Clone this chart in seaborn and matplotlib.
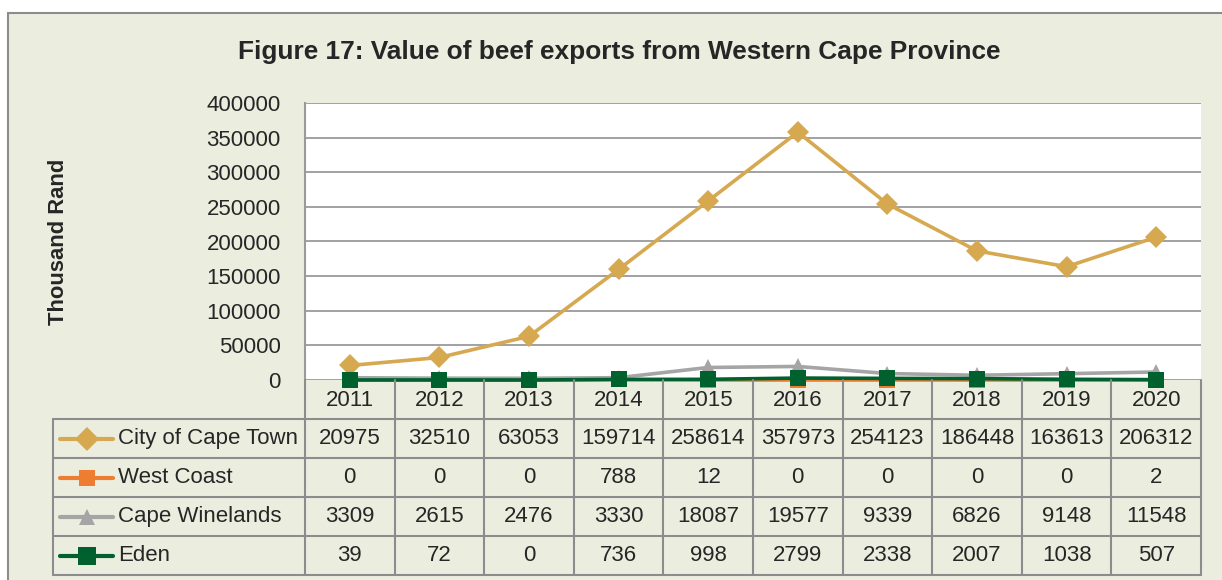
import numpy as np
import pandas as pd
import matplotlib
matplotlib.use("Agg")
import matplotlib.pyplot as plt
import seaborn as sns

years = [2011, 2012, 2013, 2014, 2015, 2016, 2017, 2018, 2019, 2020]
series_names = ["City of Cape Town", "West Coast", "Cape Winelands", "Eden"]
cape_town = [20975, 32510, 63053, 159714, 258614, 357973, 254123, 186448, 163613, 206312]
west_coast = [0, 0, 0, 788, 12, 0, 0, 0, 0, 2]
winelands = [3309, 2615, 2476, 3330, 18087, 19577, 9339, 6826, 9148, 11548]
eden = [39, 72, 0, 736, 998, 2799, 2338, 2007, 1038, 507]
yticks = [0, 50000, 100000, 150000, 200000, 250000, 300000, 350000, 400000]

colors = {"City of Cape Town": "#D6A84F", "West Coast": "#ED7D31",
          "Cape Winelands": "#A5A5A5", "Eden": "#00612E"}
markers = {"City of Cape Town": "D", "West Coast": "s",
           "Cape Winelands": "^", "Eden": "s"}
msizes = {"City of Cape Town": 11, "West Coast": 11, "Cape Winelands": 11, "Eden": 12}

df = pd.DataFrame({
    "year": years * 4,
    "value": cape_town + west_coast + winelands + eden,
    "series": np.repeat(series_names, len(years)),
})

sns.set_style("white")
FONT = ["Liberation Sans", "DejaVu Sans"]
plt.rcParams["font.family"] = FONT
FS = 16

BG = "#EBEEDF"
GRID = "#9A9A9A"
W, H = 1222, 580
fig = plt.figure(figsize=(W / 100, H / 100), dpi=100)
fig.patch.set_facecolor("white")

# chart background frame
frame = fig.add_axes([0, 0, 1, 1])
frame.set_xlim(0, W)
frame.set_ylim(H, 0)
frame.axis("off")
frame.add_patch(plt.Rectangle((7.5, 13), W + 10, H, facecolor=BG,
                              edgecolor="#8C8C8C", linewidth=1.5))

L, R, T, B = 305, 1201, 103, 380
ax = fig.add_axes([L / W, 1 - B / H, (R - L) / W, (B - T) / H])
ax.set_facecolor("white")
for name in series_names:
    sub = df[df["series"] == name]
    sns.lineplot(data=sub, x="year", y="value", color=colors[name],
                 marker=markers[name], markersize=msizes[name],
                 markeredgewidth=0, linewidth=2.6, ax=ax, legend=False,
                 clip_on=False)
ax.set_xlim(years[0] - 0.5, years[-1] + 0.5)
ax.set_ylim(0, 400000)
ax.set_yticks(yticks)
ax.set_yticklabels([str(v) for v in yticks], fontsize=FS)
ax.set_xticks([])
ax.yaxis.grid(True, color=GRID, linewidth=1.3)
ax.set_axisbelow(True)
ax.tick_params(axis="y", length=0, pad=17.5)
for s in ["top", "right", "bottom"]:
    ax.spines[s].set_visible(False)
ax.spines["left"].set_color(GRID)
ax.spines["left"].set_linewidth(1.5)
ax.set_xlabel("")
ax.set_ylabel("Thousand Rand", fontsize=15.8, fontweight="bold")
ax.yaxis.set_label_coords(-(L - 69) / (R - L), 0.5)

fig.text(619 / W, 1 - 52 / H, "Figure 17: Value of beef exports from Western Cape Province",
         ha="center", va="center", fontsize=18.9, fontweight="bold")

# data table
TL, TT, TB = 53, 380, 575
ax_t = fig.add_axes([TL / W, 1 - TB / H, (R - TL) / W, (TB - TT) / H])
col_w = (R - L) / len(years)
x_left = years[0] - 0.5 - (L - TL) / col_w
ax_t.set_xlim(x_left, years[-1] + 0.5)
ax_t.set_ylim(5, 0)
ax_t.axis("off")
lc = "#8C8C8C"
lw = 1.5
x0, x1 = years[0] - 0.5, years[-1] + 0.5
for r in range(1, 6):
    ax_t.plot([x_left, x1], [r, r], color=lc, lw=lw, clip_on=False)
for k in range(len(years) + 1):
    ax_t.plot([x0 + k, x0 + k], [0, 5], color=lc, lw=lw, clip_on=False)
ax_t.plot([x_left, x_left], [1, 5], color=lc, lw=lw, clip_on=False)

for i, y in enumerate(years):
    ax_t.text(y, 0.52, str(y), ha="center", va="center", fontsize=FS)

all_vals = [cape_town, west_coast, winelands, eden]
px = 1 / col_w
for r, (name, vals) in enumerate(zip(series_names, all_vals), start=1):
    yc = r + 0.5
    ax_t.plot([x_left + 7 * px, x_left + 60 * px], [yc, yc], color=colors[name],
              lw=3, solid_capstyle="round")
    ax_t.plot([x_left + 34 * px], [yc], marker=markers[name], color=colors[name],
              markersize=msizes[name] + 1, markeredgewidth=0)
    ax_t.text(x_left + 65 * px, yc, name, ha="left", va="center", fontsize=FS)
    for y, v in zip(years, vals):
        ax_t.text(y, yc, str(v), ha="center", va="center", fontsize=FS)

fig.savefig("out.png", dpi=100, facecolor=fig.get_facecolor())
